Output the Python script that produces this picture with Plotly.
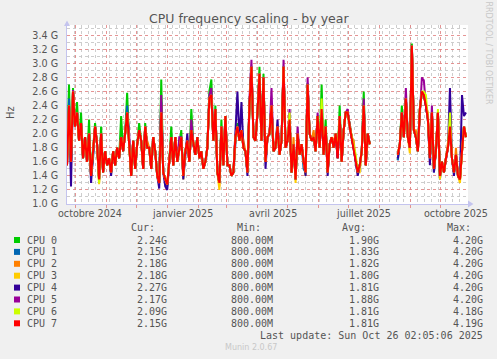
import plotly.graph_objects as go
import pandas as pd

N = None
series_names = ["CPU 0", "CPU 1", "CPU 2", "CPU 3", "CPU 4", "CPU 5", "CPU 6", "CPU 7"]
series_colors = ["#00cc00", "#0066b3", "#ff8000", "#ffcc00", "#330099", "#990099", "#ccff00", "#ff0000"]

# one sample every 2 days starting 2024-09-23 (GHz)
cpu0 = [1.65, 2.70, 1.60, 2.65, 2.10, 2.45, 1.90, 2.30, 1.65, 1.95,
        1.60, 2.20, 1.40, 1.75, 2.15, 1.85, 1.35, 2.10, 1.45, 1.75,
        1.55, 1.65, 1.45, 1.75, 1.55, 1.80, 1.65, 2.25, 1.75, 2.00,
        2.58, 1.85, 1.40, 1.90, 1.50, 1.85, 2.15, 1.90, 1.50, 2.15,
        1.80, 1.80, 1.50, 1.95, 1.75, 1.40, 1.30, 2.77, 1.45, 1.35,
        1.28, 1.60, 2.10, 1.55, 1.95, 1.60, 1.80, 2.05, 1.40, 1.75,
        1.90, 1.60, 2.35, 1.85, 1.70, 1.95, 1.65, 1.75, 1.50, 1.60,
        1.80, 2.60, 2.77, 1.90, 2.40, 1.45, 1.30, 2.20, 1.55, 2.25,
        1.55, 1.55, 1.40, 1.45, 1.95, 2.15, 1.90, 2.05, 1.80, 1.75,
        1.45, 2.40, 2.95, 1.95, 1.90, 2.30, 2.95, 1.90, 2.85, 1.60,
        1.95, 2.00, 2.40, 1.75, 1.80, 2.10, 1.70, 1.90, 2.95, 1.80,
        1.90, 2.20, 1.45, 1.85, 1.35, 2.00, 1.70, 1.85, 1.60, 1.45,
        2.72, 2.00, 1.90, 1.95, 1.75, 2.25, 1.80, 2.70, 1.70, 2.20,
        1.45, 1.85, 1.95, 1.80, 2.00, 1.65, 2.40, 1.60, 2.05, 2.30,
        2.30, 2.10, 1.95, 1.80, 1.60, 1.45, 1.55, 1.75, 2.60, 1.55,
        2.00, 1.85, N, N, N, N, N, N, N, N,
        N, N, N, N, N, 1.70, 1.85, 2.40, 1.95, 2.50,
        1.95, 1.80, 3.28, 2.05, 1.95, 1.75, 2.35, 2.60, 2.55, 2.40,
        2.20, 1.65, 2.30, 1.50, 1.75, 2.30, 1.40, 1.60, 1.45, 1.65,
        1.80, 2.10, 1.65, 1.45, 1.70, 1.40, 1.35, 1.75, 2.10, 1.95]

cpu1 = [1.55, 2.50, 1.60, 2.60, 2.10, 2.30, 1.90, 2.15, 1.65, 1.95,
        1.60, 2.00, 1.40, 1.65, 2.10, 1.85, 1.35, 2.00, 1.45, 1.75,
        1.55, 1.65, 1.45, 1.75, 1.55, 1.80, 1.65, 1.95, 1.75, 2.00,
        2.40, 1.85, 1.40, 1.90, 1.50, 1.85, 2.05, 1.90, 1.50, 2.10,
        1.80, 1.80, 1.50, 1.95, 1.75, 1.40, 1.30, 2.45, 1.45, 1.35,
        1.25, 1.60, 1.95, 1.55, 1.95, 1.60, 1.80, 1.95, 1.40, 1.75,
        1.90, 1.60, 2.05, 1.85, 1.70, 1.95, 1.65, 1.75, 1.50, 1.60,
        1.80, 2.50, 2.55, 1.90, 2.35, 1.45, 1.30, 2.10, 1.55, 2.25,
        1.55, 1.55, 1.40, 1.45, 1.85, 2.10, 1.90, 2.05, 1.80, 1.75,
        1.45, 2.40, 2.95, 1.95, 1.90, 2.30, 2.85, 1.90, 2.80, 1.60,
        1.95, 2.00, 2.40, 1.75, 1.80, 2.10, 1.70, 1.90, 2.95, 1.80,
        1.90, 2.20, 1.45, 1.85, 1.35, 2.00, 1.70, 1.85, 1.50, 1.45,
        2.70, 2.00, 1.90, 1.95, 1.75, 2.25, 1.80, 2.35, 1.70, 2.10,
        1.45, 1.85, 1.95, 1.80, 2.00, 1.65, 2.25, 1.60, 2.05, 2.30,
        2.30, 2.10, 1.95, 1.80, 1.60, 1.45, 1.55, 1.75, 2.40, 1.55,
        2.00, 1.85, N, N, N, N, N, N, N, N,
        N, N, N, N, N, 1.62, 1.85, 2.30, 1.95, 2.50,
        1.95, 1.80, 3.25, 2.05, 1.95, 1.75, 2.35, 2.60, 2.55, 2.40,
        2.20, 1.65, 2.30, 1.45, 1.75, 2.30, 1.35, 1.60, 1.45, 1.65,
        1.80, 2.10, 1.65, 1.45, 1.70, 1.40, 1.35, 1.75, 2.10, 1.95]

cpu2 = [1.55, 2.40, 1.60, 2.60, 2.20, 2.30, 1.90, 2.15, 1.65, 1.95,
        1.60, 2.00, 1.40, 1.75, 2.10, 1.85, 1.30, 2.00, 1.45, 1.75,
        1.55, 1.65, 1.45, 1.75, 1.55, 1.80, 1.70, 1.95, 1.75, 2.00,
        2.30, 1.85, 1.40, 1.90, 1.50, 1.85, 2.05, 1.90, 1.50, 2.10,
        1.90, 1.80, 1.50, 1.95, 1.75, 1.40, 1.30, 2.40, 1.45, 1.35,
        1.28, 1.60, 1.95, 1.55, 1.95, 1.70, 1.80, 1.95, 1.40, 1.75,
        1.90, 1.60, 2.05, 1.85, 1.70, 1.95, 1.65, 1.75, 1.50, 1.60,
        1.80, 2.50, 2.55, 1.90, 2.35, 1.45, 1.25, 2.10, 1.55, 2.25,
        1.55, 1.55, 1.40, 1.45, 1.95, 2.10, 1.90, 2.05, 1.90, 1.75,
        1.45, 2.40, 2.95, 1.95, 1.90, 2.30, 2.85, 1.90, 2.60, 1.60,
        1.95, 2.00, 2.40, 1.75, 1.90, 2.10, 1.70, 1.90, 2.95, 1.80,
        1.90, 2.20, 1.45, 1.95, 1.35, 2.00, 1.70, 1.85, 1.60, 1.45,
        2.70, 2.00, 1.90, 2.05, 1.75, 2.25, 1.80, 2.35, 1.70, 2.10,
        1.45, 1.85, 1.95, 1.90, 2.00, 1.65, 2.25, 1.60, 2.05, 2.30,
        2.30, 2.10, 1.95, 1.90, 1.60, 1.45, 1.55, 1.75, 2.40, 1.55,
        2.00, 1.85, N, N, N, N, N, N, N, N,
        N, N, N, N, N, 1.70, 1.85, 2.30, 1.95, 2.50,
        1.95, 1.80, 3.25, 2.05, 2.05, 1.75, 2.35, 2.60, 2.55, 2.40,
        2.30, 1.65, 2.30, 1.50, 1.75, 2.30, 1.40, 1.60, 1.45, 1.65,
        1.90, 2.10, 1.65, 1.45, 1.80, 1.40, 1.35, 1.75, 2.10, 1.95]

cpu3 = [1.55, 2.40, 1.60, 2.60, 2.10, 2.30, 1.90, 2.15, 1.65, 1.95,
        1.60, 2.00, 1.38, 1.75, 2.10, 1.85, 1.28, 2.00, 1.45, 1.75,
        1.55, 1.65, 1.45, 1.75, 1.55, 1.80, 1.65, 1.95, 1.75, 2.00,
        2.30, 1.85, 1.40, 1.90, 1.50, 1.85, 2.05, 1.90, 1.50, 2.10,
        1.80, 1.80, 1.50, 1.95, 1.75, 1.40, 1.30, 2.30, 1.45, 1.35,
        1.28, 1.60, 1.95, 1.55, 1.95, 1.60, 1.80, 1.95, 1.35, 1.75,
        1.90, 1.60, 2.05, 1.85, 1.70, 1.95, 1.65, 1.75, 1.50, 1.60,
        1.80, 2.50, 2.55, 1.90, 2.35, 1.45, 1.20, 2.10, 1.55, 2.25,
        1.55, 1.55, 1.40, 1.45, 1.95, 2.10, 1.90, 2.05, 1.80, 1.75,
        1.45, 2.40, 2.95, 1.95, 1.90, 2.30, 2.85, 1.90, 2.80, 1.60,
        1.95, 2.00, 2.40, 1.75, 1.80, 2.10, 1.70, 1.90, 2.95, 1.80,
        1.90, 2.20, 1.45, 1.85, 1.30, 2.00, 1.70, 1.85, 1.60, 1.40,
        2.70, 2.00, 1.90, 1.95, 1.75, 2.25, 1.80, 2.35, 1.70, 2.10,
        1.45, 1.85, 1.95, 1.80, 2.00, 1.65, 2.25, 1.60, 2.05, 2.30,
        2.30, 2.10, 1.95, 1.80, 1.60, 1.45, 1.45, 1.75, 2.40, 1.55,
        1.95, 1.85, N, N, N, N, N, N, N, N,
        N, N, N, N, N, 1.70, 1.85, 2.30, 1.95, 2.50,
        1.95, 1.72, 3.25, 2.05, 1.95, 1.75, 2.35, 2.60, 2.55, 2.40,
        2.20, 1.65, 2.30, 1.50, 1.75, 2.30, 1.35, 1.60, 1.45, 1.65,
        1.80, 2.10, 1.65, 1.45, 1.70, 1.40, 1.30, 1.75, 2.10, 1.95]

cpu4 = [1.55, 2.40, 1.25, 2.60, 2.10, 2.30, 1.90, 2.15, 1.65, 1.95,
        1.60, 2.00, 1.30, 1.75, 2.10, 1.85, 1.35, 2.00, 1.45, 1.75,
        1.55, 1.65, 1.40, 1.75, 1.55, 1.80, 1.65, 1.95, 1.75, 2.00,
        2.30, 1.85, 1.40, 1.90, 1.50, 1.85, 2.05, 1.90, 1.50, 2.10,
        1.80, 1.80, 1.50, 1.95, 1.75, 1.40, 1.22, 2.30, 1.45, 1.25,
        1.20, 1.60, 1.95, 1.55, 1.95, 1.60, 1.80, 1.95, 1.35, 1.75,
        2.00, 1.60, 2.05, 1.85, 1.70, 1.95, 1.65, 1.75, 1.50, 1.60,
        1.80, 2.50, 2.55, 1.90, 2.35, 1.45, 1.30, 2.10, 1.55, 2.25,
        1.55, 1.55, 1.40, 1.45, 1.95, 2.60, 1.90, 2.45, 1.80, 1.75,
        1.40, 2.40, 2.95, 1.95, 1.90, 2.30, 2.85, 1.90, 2.80, 1.50,
        1.95, 2.00, 2.40, 1.75, 1.80, 2.20, 1.70, 1.90, 2.95, 1.80,
        1.90, 2.20, 1.45, 1.85, 1.35, 2.00, 1.70, 1.85, 1.60, 1.40,
        2.70, 2.00, 1.90, 1.95, 1.75, 2.25, 1.80, 2.35, 1.70, 2.10,
        1.40, 1.85, 1.95, 1.80, 2.00, 1.65, 2.25, 1.60, 2.05, 2.30,
        2.30, 2.10, 1.95, 1.80, 1.60, 1.40, 1.55, 1.75, 2.40, 1.55,
        2.00, 1.85, N, N, N, N, N, N, N, N,
        N, N, N, N, N, 1.65, 1.85, 2.30, 1.95, 2.50,
        1.95, 1.80, 3.25, 2.05, 1.95, 1.75, 2.35, 2.60, 2.55, 2.40,
        2.20, 1.55, 2.30, 1.45, 1.75, 2.30, 1.40, 1.60, 1.45, 1.65,
        1.80, 2.65, 1.65, 1.40, 1.70, 1.40, 1.35, 2.55, 2.25, 2.30]

cpu5 = [1.55, 2.40, 1.60, 2.62, 2.10, 2.30, 1.90, 2.15, 1.65, 1.95,
        1.60, 2.00, 1.40, 1.75, 2.10, 1.85, 1.35, 2.00, 1.45, 1.75,
        1.55, 1.65, 1.45, 1.75, 1.55, 1.80, 1.65, 1.95, 1.75, 2.00,
        2.30, 2.00, 1.40, 1.90, 1.50, 1.85, 2.05, 1.90, 1.50, 2.10,
        1.80, 1.80, 1.50, 1.95, 1.75, 1.40, 1.30, 2.55, 1.45, 1.35,
        1.28, 1.60, 1.95, 1.55, 1.95, 1.60, 1.95, 1.95, 1.40, 1.75,
        1.90, 1.60, 2.20, 1.85, 1.70, 1.95, 1.65, 1.75, 1.50, 1.60,
        1.80, 2.55, 2.65, 1.90, 2.35, 1.45, 1.30, 2.10, 1.55, 2.25,
        1.55, 1.55, 1.40, 1.45, 1.95, 2.10, 1.90, 2.05, 1.80, 1.75,
        1.45, 2.50, 3.05, 1.95, 1.90, 2.30, 2.85, 1.90, 2.80, 1.60,
        1.95, 2.00, 2.65, 1.75, 1.80, 2.10, 1.70, 1.90, 3.05, 1.80,
        1.90, 2.35, 1.45, 1.85, 1.35, 2.10, 1.70, 1.85, 1.60, 1.45,
        2.80, 2.00, 1.90, 1.95, 1.75, 2.30, 1.80, 2.35, 1.70, 2.10,
        1.45, 1.85, 1.95, 1.80, 2.00, 1.65, 2.25, 1.60, 2.05, 2.30,
        2.35, 2.10, 1.95, 1.80, 1.60, 1.45, 1.55, 1.75, 2.50, 1.55,
        2.00, 1.85, N, N, N, N, N, N, N, N,
        N, N, N, N, N, 1.70, 1.85, 2.30, 1.95, 2.65,
        1.95, 1.80, 3.25, 2.05, 1.95, 1.75, 2.35, 2.80, 2.75, 2.40,
        2.20, 1.65, 2.40, 1.50, 1.75, 2.30, 1.40, 1.60, 1.45, 1.65,
        1.80, 2.10, 1.65, 1.45, 1.70, 1.40, 1.35, 1.75, 2.10, 1.95]

cpu6 = [1.55, 2.40, 1.60, 2.60, 2.10, 2.30, 1.90, 2.15, 1.65, 1.95,
        1.60, 2.00, 1.40, 1.75, 2.10, 1.85, 1.30, 2.00, 1.45, 1.75,
        1.55, 1.65, 1.45, 1.75, 1.55, 1.80, 1.65, 1.95, 1.75, 2.00,
        2.30, 1.85, 1.40, 1.90, 1.50, 1.85, 2.05, 1.90, 1.50, 2.10,
        1.80, 1.80, 1.50, 1.95, 1.75, 1.40, 1.30, 2.30, 1.45, 1.35,
        1.28, 1.60, 1.95, 1.55, 1.95, 1.60, 1.80, 1.95, 1.40, 1.75,
        1.90, 1.60, 2.05, 1.85, 1.70, 1.95, 1.65, 1.75, 1.50, 1.60,
        1.80, 2.50, 2.55, 1.90, 2.35, 1.45, 1.30, 2.10, 1.55, 2.25,
        1.55, 1.55, 1.40, 1.45, 1.95, 2.10, 1.90, 2.05, 1.80, 1.75,
        1.45, 2.40, 2.95, 1.95, 1.90, 2.30, 2.85, 1.90, 2.80, 1.60,
        1.95, 2.00, 2.40, 1.75, 1.80, 2.10, 1.70, 1.90, 2.95, 1.80,
        1.90, 2.30, 1.45, 1.85, 1.35, 2.00, 1.70, 1.85, 1.60, 1.45,
        2.70, 2.00, 1.90, 1.95, 1.75, 2.25, 1.80, 2.50, 1.70, 2.10,
        1.45, 1.85, 1.95, 1.80, 2.00, 1.75, 2.25, 1.60, 2.05, 2.30,
        2.30, 2.10, 1.95, 1.80, 1.70, 1.45, 1.55, 1.75, 2.40, 1.55,
        2.00, 1.85, N, N, N, N, N, N, N, N,
        N, N, N, N, N, 1.70, 1.85, 2.30, 1.95, 2.50,
        1.95, 1.80, 3.25, 2.05, 1.95, 1.75, 2.35, 2.60, 2.60, 2.55,
        2.20, 1.65, 2.30, 1.50, 1.75, 2.35, 1.40, 1.60, 1.45, 1.65,
        1.80, 2.30, 1.65, 1.45, 1.70, 1.40, 1.35, 1.75, 2.10, 1.95]

cpu7 = [1.55, 2.40, 1.60, 2.60, 2.10, 2.30, 1.90, 2.15, 1.65, 1.95,
        1.60, 2.00, 1.40, 1.75, 2.10, 1.85, 1.35, 2.00, 1.45, 1.75,
        1.55, 1.65, 1.45, 1.75, 1.55, 1.80, 1.65, 1.95, 1.75, 2.00,
        2.30, 1.85, 1.40, 1.90, 1.50, 1.85, 2.05, 1.90, 1.50, 2.10,
        1.80, 1.80, 1.50, 1.95, 1.75, 1.40, 1.30, 2.30, 1.45, 1.35,
        1.28, 1.60, 1.95, 1.55, 1.95, 1.60, 1.80, 1.95, 1.40, 1.75,
        1.90, 1.60, 2.05, 1.85, 1.70, 1.95, 1.65, 1.75, 1.50, 1.60,
        1.80, 2.50, 2.55, 1.90, 2.35, 1.45, 1.30, 2.10, 1.55, 2.25,
        1.55, 1.55, 1.40, 1.45, 1.95, 2.10, 1.90, 2.05, 1.80, 1.75,
        1.45, 2.40, 2.95, 1.95, 1.90, 2.30, 2.85, 1.90, 2.80, 1.60,
        1.95, 2.00, 2.40, 1.75, 1.80, 2.10, 1.70, 1.90, 2.95, 1.80,
        1.90, 2.20, 1.45, 1.85, 1.35, 2.00, 1.70, 1.85, 1.60, 1.45,
        2.70, 2.00, 1.90, 1.95, 1.75, 2.25, 1.80, 2.35, 1.70, 2.10,
        1.45, 1.85, 1.95, 1.80, 2.00, 1.65, 2.25, 1.60, 2.05, 2.30,
        2.30, 2.10, 1.95, 1.80, 1.60, 1.45, 1.55, 1.75, 2.40, 1.55,
        2.00, 1.85, N, N, N, N, N, N, N, N,
        N, N, N, N, N, 1.70, 1.85, 2.30, 1.95, 2.50,
        1.95, 1.80, 3.25, 2.05, 1.95, 1.75, 2.35, 2.60, 2.55, 2.40,
        2.20, 1.65, 2.30, 1.50, 1.75, 2.30, 1.40, 1.60, 1.45, 1.65,
        1.80, 2.10, 1.65, 1.45, 1.70, 1.40, 1.35, 1.75, 2.10, 1.95]

cur_vals = ["2.24G", "2.15G", "2.18G", "2.18G", "2.27G", "2.17G", "2.09G", "2.15G"]
min_vals = ["800.00M", "800.00M", "800.00M", "800.00M", "800.00M", "800.00M", "800.00M", "800.00M"]
avg_vals = ["1.90G", "1.83G", "1.82G", "1.80G", "1.81G", "1.88G", "1.81G", "1.81G"]
max_vals = ["4.20G", "4.20G", "4.20G", "4.20G", "4.20G", "4.20G", "4.18G", "4.19G"]

ytick_vals = [1.0, 1.2, 1.4, 1.6, 1.8, 2.0, 2.2, 2.4, 2.6, 2.8, 3.0, 3.2, 3.4]
ytick_text = ["1.0 G", "1.2 G", "1.4 G", "1.6 G", "1.8 G", "2.0 G", "2.2 G", "2.4 G",
              "2.6 G", "2.8 G", "3.0 G", "3.2 G", "3.4 G"]
yminor_vals = [1.1, 1.3, 1.5, 1.7, 1.9, 2.1, 2.3, 2.5, 2.7, 2.9, 3.1, 3.3, 3.5]
xlabel_dates = ["2024-10-16", "2025-01-16", "2025-04-16", "2025-07-16", "2025-10-16"]
xlabel_text = ["octobre 2024", "janvier 2025", "avril 2025", "juillet 2025", "octobre 2025"]

all_series = [cpu0, cpu1, cpu2, cpu3, cpu4, cpu5, cpu6, cpu7]
dates = pd.date_range("2024-09-23", periods=len(cpu7), freq="2D")
month_starts = pd.date_range("2024-10-01", "2025-10-01", freq="MS")
week_starts = pd.date_range("2024-09-23", "2025-10-27", freq="W-MON")

W, H = 497, 359
L, R, T, B = 67, 468, 25, 204


def px(x):
    return (x - L) / (R - L)


def py(y):
    return (B - y) / (B - T)


TXT = "#555555"
MAJ = "rgba(225,130,130,0.85)"
MIN = "rgba(200,200,200,0.9)"
AXC = "#c4c4ee"

fig = go.Figure()
for name, vals, col in zip(series_names, all_series, series_colors):
    fig.add_trace(go.Scatter(x=dates, y=vals, mode="lines", name=name,
                             line=dict(color=col, width=2.0), connectgaps=False,
                             showlegend=False, hoverinfo="skip"))

fig.update_layout(
    width=W, height=H,
    margin=dict(l=L, r=W - R, t=T, b=H - B, pad=0),
    paper_bgcolor="#f0f0f0", plot_bgcolor="#ffffff",
    font=dict(family="DejaVu Sans", size=10, color=TXT),
    showlegend=False,
)
fig.update_xaxes(
    type="date", range=["2024-09-23", "2025-10-28"],
    tickmode="array", tickvals=month_starts, showticklabels=False,
    ticks="outside", ticklen=3, tickcolor=MAJ,
    showgrid=True, gridcolor=MAJ, griddash="dot", gridwidth=1,
    minor=dict(tickmode="array", tickvals=week_starts, showgrid=True,
               gridcolor=MIN, griddash="dot", gridwidth=1, ticks=""),
    showline=True, linecolor=AXC, linewidth=1, zeroline=False,
)
fig.update_yaxes(
    range=[1.0, 3.545], tickmode="array", tickvals=ytick_vals, ticktext=ytick_text,
    tickfont=dict(family="DejaVu Sans", size=9.6, color=TXT),
    ticks="", ticklabelstandoff=6,
    showgrid=True, gridcolor=MAJ, griddash="dot", gridwidth=1,
    minor=dict(tickmode="array", tickvals=yminor_vals, showgrid=True,
               gridcolor=MIN, griddash="dot", gridwidth=1, ticks=""),
    showline=True, linecolor=AXC, linewidth=1, zeroline=False,
)

ann = []
ann.append(dict(text="CPU frequency scaling - by year", x=px(248.5), y=py(18.5),
                xref="paper", yref="paper", xanchor="center", yanchor="middle",
                showarrow=False, font=dict(family="DejaVu Sans", size=12.5, color=TXT)))
for d, t in zip(xlabel_dates, xlabel_text):
    ann.append(dict(text=t, x=d, y=py(213), xref="x", yref="paper",
                    xanchor="center", yanchor="middle", showarrow=False,
                    font=dict(family="DejaVu Sans", size=9.6, color=TXT)))
ann.append(dict(text="Hz", x=px(10), y=py(113), xref="paper", yref="paper",
                xanchor="center", yanchor="middle", textangle=-90, showarrow=False,
                font=dict(family="DejaVu Sans", size=10, color=TXT)))
ann.append(dict(text="RRDTOOL / TOBI OETIKER", x=px(487.5), y=py(53), xref="paper",
                yref="paper", xanchor="center", yanchor="middle", textangle=90,
                showarrow=False, font=dict(family="DejaVu Sans", size=8, color="#c8c8c8")))

MONO = "DejaVu Sans Mono"


def mono(text, x, y, color=TXT, size=10):
    return dict(text=text, x=px(x), y=py(y), xref="paper", yref="paper",
                xanchor="left", yanchor="middle", showarrow=False,
                borderpad=0, borderwidth=0,
                font=dict(family=MONO, size=size, color=color))


hy = 227
ann.append(mono("Cur:", 131, hy))
ann.append(mono("Min:", 237, hy))
ann.append(mono("Avg:", 342, hy))
ann.append(mono("Max:", 446.5, hy))

shapes = []
for k in range(len(series_names)):
    ry = 240 + 11.9 * k
    shapes.append(dict(type="rect", xref="paper", yref="paper",
                       x0=px(14), x1=px(20), y0=py(ry + 3), y1=py(ry - 3),
                       fillcolor=series_colors[k], line=dict(width=0)))
    ann.append(mono(series_names[k], 26.7, ry))
    ann.append(mono(cur_vals[k], 137.3, ry))
    ann.append(mono(min_vals[k], 231.2, ry))
    ann.append(mono(avg_vals[k], 349.3, ry))
    ann.append(mono(max_vals[k], 452.7, ry))

ann.append(mono("Last update: Sun Oct 26 02:05:06 2025", 259.6, 335.7))
ann.append(dict(text="Munin 2.0.67", x=px(250.5), y=py(347.5), xref="paper", yref="paper",
                xanchor="center", yanchor="middle", showarrow=False,
                font=dict(family="DejaVu Sans", size=8, color="#c8c8c8")))

shapes.append(dict(type="path", xref="paper", yref="paper",
                   path=f"M {px(64)} {py(26)} L {px(67)} {py(20.5)} L {px(70)} {py(26)} Z",
                   fillcolor=AXC, line=dict(width=0)))
shapes.append(dict(type="path", xref="paper", yref="paper",
                   path=f"M {px(468)} {py(200.5)} L {px(473.5)} {py(204)} L {px(468)} {py(207.5)} Z",
                   fillcolor=AXC, line=dict(width=0)))

fig.update_layout(annotations=ann, shapes=shapes)
fig.write_html("out.html", config={"displayModeBar": False},
               post_script="document.body.style.margin='0px';document.body.style.overflow='hidden';")
